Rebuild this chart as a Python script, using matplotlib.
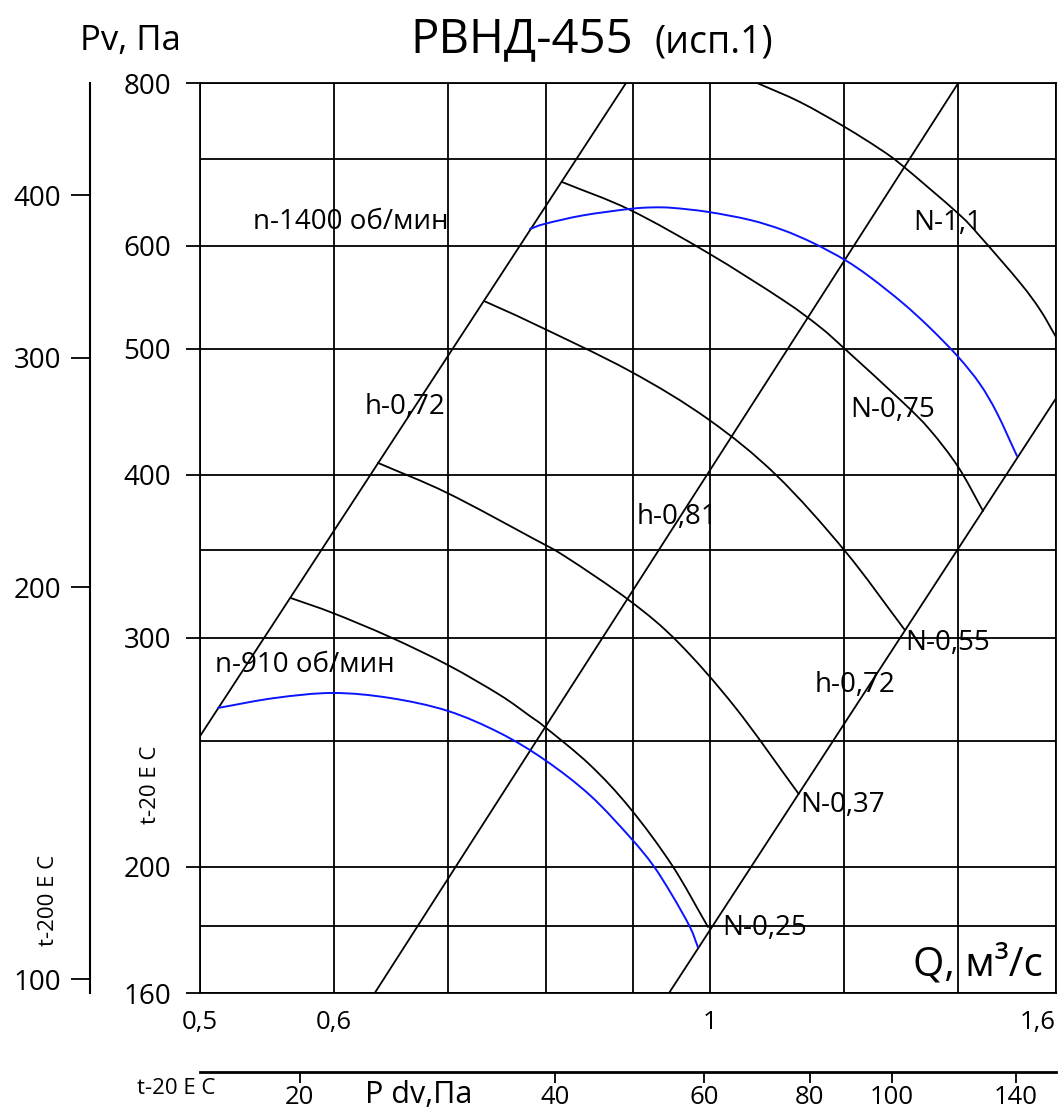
import numpy as np
import matplotlib
matplotlib.use('Agg')
import matplotlib.pyplot as plt
from matplotlib.ticker import FixedLocator, NullFormatter, NullLocator
from matplotlib.path import Path
from matplotlib.patches import PathPatch

plt.rcParams['font.family'] = ['Open Sans', 'DejaVu Sans']

W, H = 1064, 1111

# --- scales ---
q_ticks = [0.5, 0.6, 1.0, 1.6]
q_tick_labels = ['0,5', '0,6', '1', '1,6']
q_grid = [0.7, 0.8, 0.9, 1.2, 1.4]
p_ticks = [160, 200, 300, 400, 500, 600, 800]
p_grid = [180, 250, 350, 700]
p_hot_ticks = [100, 200, 300, 400]      # t-200 E C scale
pdv_ticks = [20, 40, 60, 80, 100, 140]  # P dv scale

# --- system lines (h) ---
sys_a_q = [0.5, 0.892]
sys_a_p = [252, 800]
sys_b_q = [0.634, 1.401]
sys_b_p = [160, 800]
sys_c_q = [0.9457, 1.6]
sys_c_p = [160, 458]

# --- N curves ---
n11_q = [1.066, 1.130, 1.201, 1.259, 1.299, 1.401, 1.443, 1.524, 1.566, 1.600]
n11_p = [800, 773.5, 740, 712, 691, 635, 610, 561.7, 535.5, 510.5]

n075_q = [0.8177, 0.8968, 0.9972, 1.104, 1.161, 1.201, 1.299, 1.348, 1.401, 1.449]
n075_p = [671.5, 639.2, 592.3, 545.0, 519.6, 499.8, 455.0, 433.2, 405.6, 375.3]

n055_q = [0.7356, 0.7852, 0.8968, 0.9972, 1.0937, 1.201, 1.303]
n055_p = [544, 523.3, 480.6, 441.5, 400, 349.7, 304]

n037_q = [0.6368, 0.6995, 0.7852, 0.8220, 0.8968, 0.9572, 1.0344, 1.128]
n037_p = [408.6, 387.5, 357.8, 346.0, 320.1, 297.6, 265.3, 227.5]

n025_q = [0.5658, 0.5990, 0.6473, 0.7002, 0.7516, 0.7829, 0.7989, 0.8494, 0.8968, 0.9495, 0.9972]
n025_p = [321.7, 313.3, 300.3, 285.8, 271.0, 261.1, 256.1, 239.5, 221.9, 200.6, 179.8]

# --- speed curves (blue) ---
rpm910_q = [0.5124, 0.5536, 0.5990, 0.6473, 0.7002, 0.7516, 0.7989, 0.8494, 0.8968,
            0.9253, 0.9495, 0.9730, 0.9836]
rpm910_p = [264.9, 269.6, 272.0, 269.6, 263.5, 253.4, 241.6, 227.0, 210.8,
            200.6, 190.3, 179.8, 173.5]

rpm1400_q = [0.7829, 0.7989, 0.8414, 0.8968, 0.9253, 0.9508, 0.9972, 1.0557, 1.104, 1.1501,
             1.201, 1.2425, 1.299, 1.3484, 1.401, 1.443, 1.4765, 1.5174]
rpm1400_p = [618.0, 623.6, 633.0, 640.3, 642.0, 641.4, 636.9, 627.9, 616.8, 602.9,
             585.0, 567.7, 542.2, 518.7, 492.8, 469.7, 446.4, 413.6]

PDV_K = 61.0
HOT_K = 1.64


def smooth_curve(ax, q, p, **kw):
    # smooth line through the read points (Catmull-Rom drawn as Bezier, in log space)
    pts = np.column_stack([np.log10(q), np.log10(p)])
    ext = np.vstack([2 * pts[0] - pts[1], pts, 2 * pts[-1] - pts[-2]])
    verts = [pts[0]]
    codes = [Path.MOVETO]
    for i in range(len(pts) - 1):
        p0, p1, p2, p3 = ext[i], ext[i + 1], ext[i + 2], ext[i + 3]
        verts += [p1 + (p2 - p0) / 6, p2 - (p3 - p1) / 6, p2]
        codes += [Path.CURVE4] * 3
    verts = 10 ** np.array(verts)
    ax.add_patch(PathPatch(Path(verts, codes), fill=False, capstyle='round', **kw))


fig = plt.figure(figsize=(W / 100, H / 100), dpi=100)
ax = fig.add_axes([200 / W, 1 - 993 / H, 856 / W, 910 / H])
ax.set_xscale('log')
ax.set_yscale('log')

lw = 1.3
for q, p in [(sys_a_q, sys_a_p), (sys_b_q, sys_b_p), (sys_c_q, sys_c_p)]:
    ax.plot(q, p, color='black', linewidth=lw, zorder=3)
for q, p in [(n11_q, n11_p), (n075_q, n075_p), (n055_q, n055_p),
             (n037_q, n037_p), (n025_q, n025_p)]:
    smooth_curve(ax, q, p, edgecolor='black', linewidth=lw, zorder=3)
for q, p in [(rpm910_q, rpm910_p), (rpm1400_q, rpm1400_p)]:
    smooth_curve(ax, q, p, edgecolor='#0a14ff', linewidth=1.4, zorder=4)

ax.set_xlim(0.5, 1.6)
ax.set_ylim(160, 800)

ax.xaxis.set_major_locator(FixedLocator(q_ticks))
ax.set_xticklabels(q_tick_labels)
ax.get_xticklabels()[-1].set_ha('right')
ax.xaxis.set_minor_locator(FixedLocator(q_grid))
ax.xaxis.set_minor_formatter(NullFormatter())
ax.yaxis.set_major_locator(FixedLocator(p_ticks))
ax.set_yticklabels([str(v) for v in p_ticks])
ax.yaxis.set_minor_locator(FixedLocator(p_grid))
ax.yaxis.set_minor_formatter(NullFormatter())

ax.tick_params(axis='x', which='major', length=0, pad=12, labelsize=18.5)
ax.tick_params(axis='y', which='major', length=10, width=1.3, pad=11, labelsize=20)
ax.tick_params(which='minor', length=0)
ax.grid(which='both', color='black', linewidth=1.3)
for s in ax.spines.values():
    s.set_linewidth(1.3)

# secondary scales
sec_y = ax.secondary_yaxis(-110 / 856, functions=(lambda p: p / HOT_K, lambda p: p * HOT_K))
sec_y.yaxis.set_major_locator(FixedLocator(p_hot_ticks))
sec_y.yaxis.set_minor_locator(NullLocator())
sec_y.set_yticklabels([str(v) for v in p_hot_ticks])
sec_y.tick_params(length=14, width=1.3, pad=7, labelsize=20)
sec_y.spines['left'].set_linewidth(1.5)

sec_x = ax.secondary_xaxis(-79 / 910, functions=(lambda q: PDV_K * np.asarray(q) ** 2,
                                                  lambda p: np.sqrt(np.clip(np.asarray(p) / PDV_K, 1e-9, None))))
sec_x.xaxis.set_major_locator(FixedLocator(pdv_ticks))
sec_x.xaxis.set_minor_locator(NullLocator())
sec_x.set_xticklabels([str(v) for v in pdv_ticks])
sec_x.tick_params(length=8, width=1.3, pad=1, labelsize=18.5)
sec_x.spines['bottom'].set_linewidth(2)


def put(x, y, s, size, ha='left', va='center', **kw):
    fig.text(x / W, 1 - y / H, s, fontsize=size, ha=ha, va=va, **kw)


# titles and axis names
put(410, 52, 'РВНД-455', 34, va='baseline')
put(655, 52, '(исп.1)', 27, va='baseline')
put(80, 50, 'Pv, Па', 25, va='baseline')
put(1043, 975, 'Q, м³/с', 29, ha='right', va='baseline')
put(365, 1103, 'P dv,Па', 22, va='baseline')
put(137, 1094, 't-20 E C', 16, va='baseline')
put(150, 785, 't-20 E C', 16, ha='center', rotation=90)
put(48, 900, 't-200 E C', 16, ha='center', rotation=90)

# curve labels
put(253, 222, 'n-1400 об/мин', 20)
put(215, 665, 'n-910 об/мин', 20)
put(913, 223, 'N-1,1', 20)
put(850, 410, 'N-0,75', 20)
put(905, 643, 'N-0,55', 20)
put(800, 805, 'N-0,37', 20)
put(722, 928, 'N-0,25', 20)
put(365, 407, 'h-0,72', 20)
put(637, 517, 'h-0,81', 20)
put(815, 685, 'h-0,72', 20)

fig.savefig('out.png', dpi=100)
